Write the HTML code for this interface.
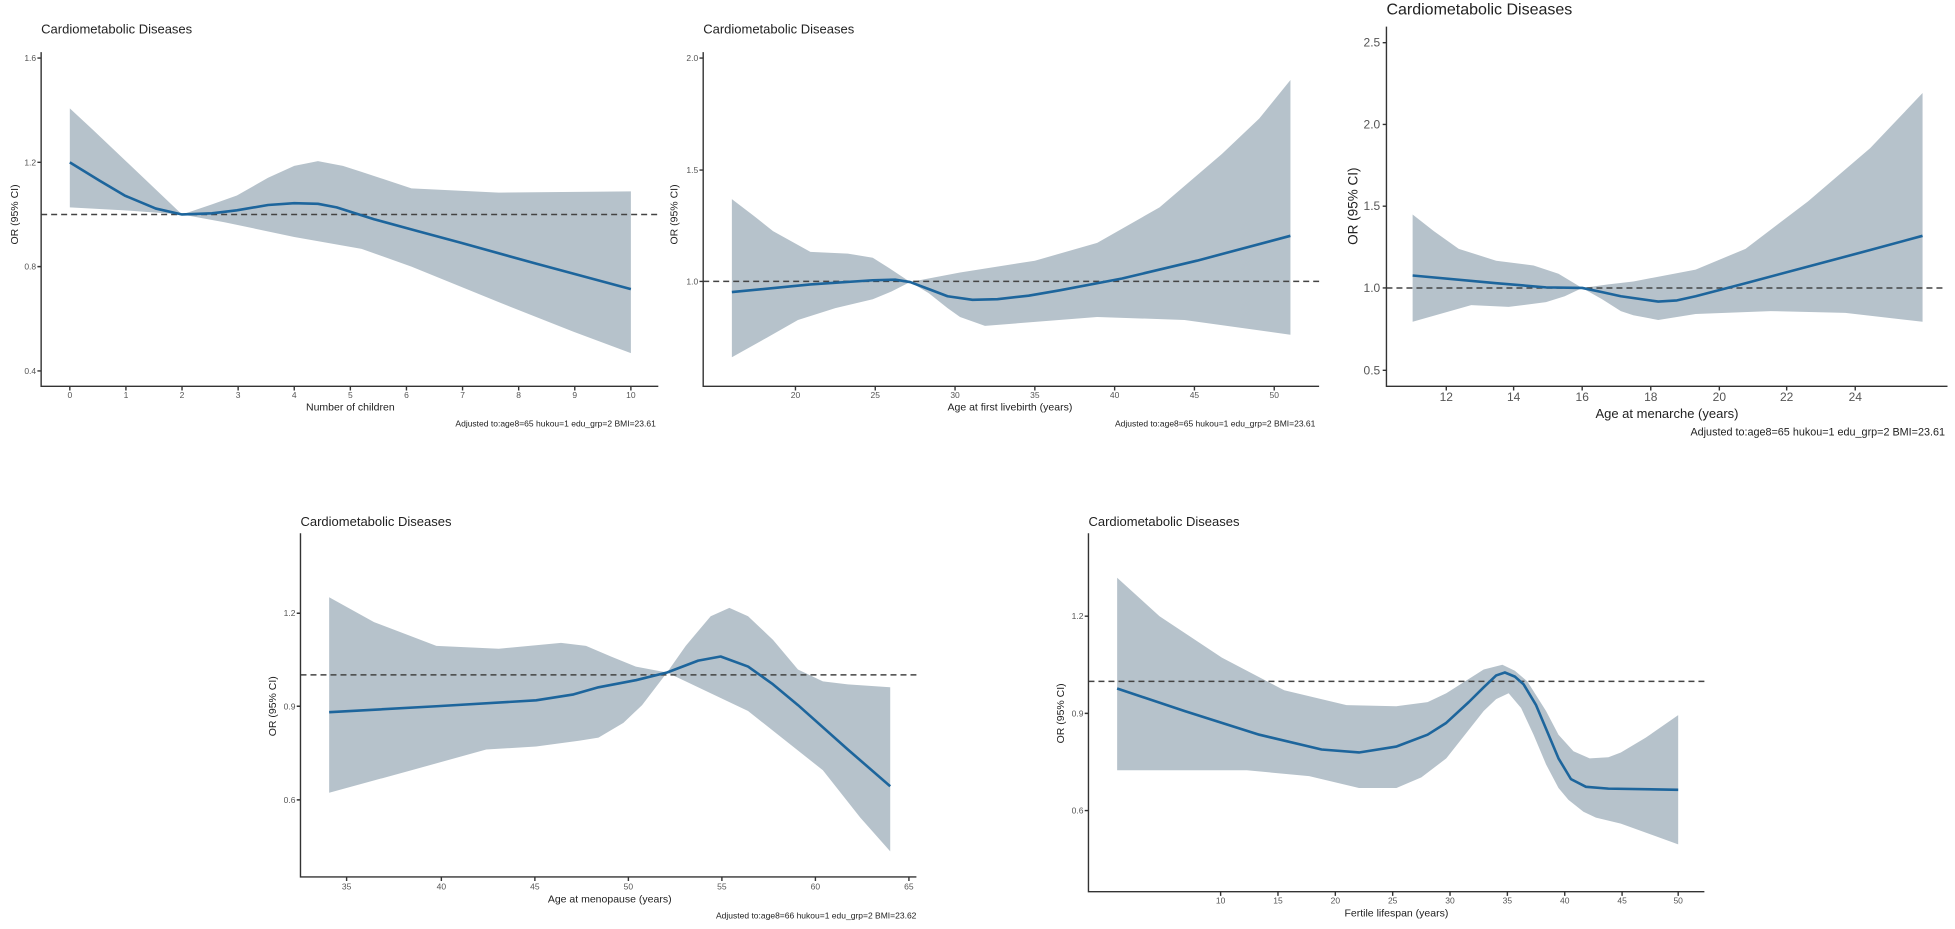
<!DOCTYPE html>
<html><head><meta charset="utf-8"><style>
html,body{margin:0;padding:0;background:#fff}
svg{display:block}
text{font-family:"Liberation Sans",Arial,sans-serif}
.t{fill:#222}.k{fill:#555}
.band{fill:#b6c2cb;stroke:none}
.ln{fill:none;stroke:#1d659c;stroke-width:2.6;stroke-linejoin:round;vector-effect:non-scaling-stroke}
.ds{fill:none;stroke:#444;stroke-width:1.5;stroke-dasharray:6 4;vector-effect:non-scaling-stroke}
.ax{fill:none;stroke:#333;stroke-width:1.4;vector-effect:non-scaling-stroke}
</style></head><body>
<svg width="1955" height="929" viewBox="0 0 1955 929" xmlns="http://www.w3.org/2000/svg">
<g transform="scale(1.2468 0.5925)">

<!-- Panel 1 -->
<path class="band" d="M56,183 L75,220 L90,250 L120,310 L146,362 L170,345 L190,330 L215,300 L236,280 L255,272 L275,280 L290,290 L330,318 L400,325 L506,323 L506,596 L460,560 L400,510 L330,450 L290,420 L236,400 L180,375 L146,362 L100,355 L56,350 Z"/>
<line class="ds" x1="33" y1="362" x2="528" y2="362"/>
<path class="ln" d="M56,274 L80,305 L100,330 L125,352 L146,362 L170,360 L190,355 L215,346 L236,343 L255,344 L270,350 L300,370 L335,390 L370,410 L430,445 L506,488"/>
<path class="ax" d="M33,88 L33,652 L528,652"/>
<path class="ax" d="M30,98H33M30,274H33M30,450H33M30,626H33M56,652V659M101,652V659M146,652V659M191,652V659M236,652V659M281,652V659M326,652V659M371,652V659M416,652V659M461,652V659M506,652V659"/>
<g font-size="8.5" class="k" text-anchor="end" dominant-baseline="central">
<text transform="translate(29 98) scale(0.8021 1.6878)">1.6</text>
<text transform="translate(29 274) scale(0.8021 1.6878)">1.2</text>
<text transform="translate(29 450) scale(0.8021 1.6878)">0.8</text>
<text transform="translate(29 626) scale(0.8021 1.6878)">0.4</text>
</g>
<g font-size="8.5" class="k" text-anchor="middle" dominant-baseline="central">
<text transform="translate(56 667) scale(0.8021 1.6878)">0</text>
<text transform="translate(101 667) scale(0.8021 1.6878)">1</text>
<text transform="translate(146 667) scale(0.8021 1.6878)">2</text>
<text transform="translate(191 667) scale(0.8021 1.6878)">3</text>
<text transform="translate(236 667) scale(0.8021 1.6878)">4</text>
<text transform="translate(281 667) scale(0.8021 1.6878)">5</text>
<text transform="translate(326 667) scale(0.8021 1.6878)">6</text>
<text transform="translate(371 667) scale(0.8021 1.6878)">7</text>
<text transform="translate(416 667) scale(0.8021 1.6878)">8</text>
<text transform="translate(461 667) scale(0.8021 1.6878)">9</text>
<text transform="translate(506 667) scale(0.8021 1.6878)">10</text>
</g>
<text class="t" font-size="13" dominant-baseline="central" transform="translate(33 49) scale(0.8021 1.6878)">Cardiometabolic Diseases</text>
<text class="t" font-size="10.5" text-anchor="middle" dominant-baseline="central" transform="translate(281 688) scale(0.8021 1.6878)">Number of children</text>
<text class="t" font-size="8.5" text-anchor="end" dominant-baseline="central" transform="translate(526 715) scale(0.8021 1.6878)">Adjusted to:age8=65 hukou=1 edu_grp=2 BMI=23.61</text>
<text class="t" font-size="10.5" text-anchor="middle" dominant-baseline="central" transform="translate(12 362) scale(0.8021 1.6878) rotate(-90)">OR (95% CI)</text>

<!-- Panel 2 -->
<path class="band" d="M587,336 L605,365 L620,390 L650,425 L680,428 L700,435 L715,455 L730,476 L770,460 L830,440 L880,410 L930,350 L980,260 L1010,200 L1035,135 L1035,565 L950,540 L880,535 L820,545 L790,550 L770,535 L760,520 L745,495 L730,476 L715,492 L700,505 L670,520 L640,540 L615,570 L587,603 Z"/>
<line class="ds" x1="564" y1="475" x2="1058" y2="475"/>
<path class="ln" d="M587,493 L650,480 L700,473 L718,472 L730,476 L745,488 L760,500 L780,506 L800,505 L825,499 L850,490 L900,470 L960,440 L1035,398"/>
<path class="ax" d="M564,88 L564,652 L1058,652"/>
<path class="ax" d="M561,98H564M561,287H564M561,475H564M638,652V659M702,652V659M766,652V659M830,652V659M894,652V659M958,652V659M1022,652V659"/>
<g font-size="8.5" class="k" text-anchor="end" dominant-baseline="central">
<text transform="translate(560 98) scale(0.8021 1.6878)">2.0</text>
<text transform="translate(560 287) scale(0.8021 1.6878)">1.5</text>
<text transform="translate(560 475) scale(0.8021 1.6878)">1.0</text>
</g>
<g font-size="8.5" class="k" text-anchor="middle" dominant-baseline="central">
<text transform="translate(638 667) scale(0.8021 1.6878)">20</text>
<text transform="translate(702 667) scale(0.8021 1.6878)">25</text>
<text transform="translate(766 667) scale(0.8021 1.6878)">30</text>
<text transform="translate(830 667) scale(0.8021 1.6878)">35</text>
<text transform="translate(894 667) scale(0.8021 1.6878)">40</text>
<text transform="translate(958 667) scale(0.8021 1.6878)">45</text>
<text transform="translate(1022 667) scale(0.8021 1.6878)">50</text>
</g>
<text class="t" font-size="13" dominant-baseline="central" transform="translate(564 49) scale(0.8021 1.6878)">Cardiometabolic Diseases</text>
<text class="t" font-size="10.5" text-anchor="middle" dominant-baseline="central" transform="translate(810 688) scale(0.8021 1.6878)">Age at first livebirth (years)</text>
<text class="t" font-size="8.5" text-anchor="end" dominant-baseline="central" transform="translate(1055 715) scale(0.8021 1.6878)">Adjusted to:age8=65 hukou=1 edu_grp=2 BMI=23.61</text>
<text class="t" font-size="10.5" text-anchor="middle" dominant-baseline="central" transform="translate(541 362) scale(0.8021 1.6878) rotate(-90)">OR (95% CI)</text>

<!-- Panel 3 -->
<path class="band" d="M1133,362 L1150,390 L1170,420 L1200,440 L1230,448 L1250,462 L1269,486 L1290,480 L1310,475 L1360,455 L1400,420 L1450,340 L1500,250 L1542,157 L1542,543 L1480,528 L1420,525 L1360,530 L1330,540 L1310,532 L1300,525 L1285,505 L1269,486 L1255,500 L1240,510 L1210,518 L1180,515 L1133,543 Z"/>
<line class="ds" x1="1112" y1="486" x2="1560" y2="486"/>
<path class="ln" d="M1133,465 L1200,478 L1240,485 L1269,486 L1285,493 L1300,500 L1330,509 L1345,507 L1360,500 L1400,478 L1450,450 L1500,422 L1542,398"/>
<path class="ax" d="M1112,45 L1112,652 L1562,652"/>
<path class="ax" d="M1109,72H1112M1109,210H1112M1109,348H1112M1109,486H1112M1109,625H1112M1160,652V659M1214,652V659M1269,652V659M1324,652V659M1379,652V659M1433,652V659M1488,652V659"/>
<g font-size="12" class="k" text-anchor="end" dominant-baseline="central">
<text transform="translate(1107 72) scale(0.8021 1.6878)">2.5</text>
<text transform="translate(1107 210) scale(0.8021 1.6878)">2.0</text>
<text transform="translate(1107 348) scale(0.8021 1.6878)">1.5</text>
<text transform="translate(1107 486) scale(0.8021 1.6878)">1.0</text>
<text transform="translate(1107 625) scale(0.8021 1.6878)">0.5</text>
</g>
<g font-size="12" class="k" text-anchor="middle" dominant-baseline="central">
<text transform="translate(1160 670) scale(0.8021 1.6878)">12</text>
<text transform="translate(1214 670) scale(0.8021 1.6878)">14</text>
<text transform="translate(1269 670) scale(0.8021 1.6878)">16</text>
<text transform="translate(1324 670) scale(0.8021 1.6878)">18</text>
<text transform="translate(1379 670) scale(0.8021 1.6878)">20</text>
<text transform="translate(1433 670) scale(0.8021 1.6878)">22</text>
<text transform="translate(1488 670) scale(0.8021 1.6878)">24</text>
</g>
<text class="t" font-size="16" dominant-baseline="central" transform="translate(1112 17) scale(0.8021 1.6878)">Cardiometabolic Diseases</text>
<text class="t" font-size="13" text-anchor="middle" dominant-baseline="central" transform="translate(1337 698) scale(0.8021 1.6878)">Age at menarche (years)</text>
<text class="t" font-size="10.8" text-anchor="end" dominant-baseline="central" transform="translate(1560 730) scale(0.8021 1.6878)">Adjusted to:age8=65 hukou=1 edu_grp=2 BMI=23.61</text>
<text class="t" font-size="13.5" text-anchor="middle" dominant-baseline="central" transform="translate(1085 348) scale(0.8021 1.6878) rotate(-90)">OR (95% CI)</text>

<!-- Panel 4 -->
<path class="band" d="M264,1008 L300,1050 L350,1090 L400,1095 L450,1085 L470,1090 L490,1108 L510,1125 L535,1135 L550,1090 L570,1040 L585,1026 L600,1040 L620,1080 L640,1130 L660,1150 L680,1155 L714,1160 L714,1437 L690,1380 L660,1300 L630,1250 L600,1200 L570,1170 L535,1135 L515,1190 L500,1220 L480,1245 L465,1250 L430,1260 L390,1265 L330,1300 L264,1338 Z"/>
<line class="ds" x1="241" y1="1139" x2="735" y2="1139"/>
<path class="ln" d="M264,1202 L350,1192 L430,1182 L460,1172 L480,1160 L510,1148 L535,1135 L560,1115 L578,1108 L600,1125 L620,1155 L640,1190 L680,1265 L714,1327"/>
<path class="ax" d="M241,900 L241,1480 L735,1480"/>
<path class="ax" d="M238,1035H241M238,1192H241M238,1350H241M278,1480V1487M354,1480V1487M429,1480V1487M504,1480V1487M579,1480V1487M654,1480V1487M729,1480V1487"/>
<g font-size="8.5" class="k" text-anchor="end" dominant-baseline="central">
<text transform="translate(237 1035) scale(0.8021 1.6878)">1.2</text>
<text transform="translate(237 1192) scale(0.8021 1.6878)">0.9</text>
<text transform="translate(237 1350) scale(0.8021 1.6878)">0.6</text>
</g>
<g font-size="8.5" class="k" text-anchor="middle" dominant-baseline="central">
<text transform="translate(278 1496) scale(0.8021 1.6878)">35</text>
<text transform="translate(354 1496) scale(0.8021 1.6878)">40</text>
<text transform="translate(429 1496) scale(0.8021 1.6878)">45</text>
<text transform="translate(504 1496) scale(0.8021 1.6878)">50</text>
<text transform="translate(579 1496) scale(0.8021 1.6878)">55</text>
<text transform="translate(654 1496) scale(0.8021 1.6878)">60</text>
<text transform="translate(729 1496) scale(0.8021 1.6878)">65</text>
</g>
<text class="t" font-size="13" dominant-baseline="central" transform="translate(241 880) scale(0.8021 1.6878)">Cardiometabolic Diseases</text>
<text class="t" font-size="10.5" text-anchor="middle" dominant-baseline="central" transform="translate(489 1518) scale(0.8021 1.6878)">Age at menopause (years)</text>
<text class="t" font-size="8.5" text-anchor="end" dominant-baseline="central" transform="translate(735 1545) scale(0.8021 1.6878)">Adjusted to:age8=66 hukou=1 edu_grp=2 BMI=23.62</text>
<text class="t" font-size="10.5" text-anchor="middle" dominant-baseline="central" transform="translate(219 1192) scale(0.8021 1.6878) rotate(-90)">OR (95% CI)</text>

<!-- Panel 5 -->
<path class="band" d="M896,975 L930,1040 L980,1110 L1030,1165 L1080,1190 L1120,1192 L1145,1185 L1160,1170 L1190,1130 L1205,1122 L1215,1132 L1225,1150 L1240,1200 L1250,1240 L1262,1268 L1275,1280 L1290,1278 L1300,1270 L1320,1245 L1346,1207 L1346,1425 L1300,1390 L1280,1380 L1270,1370 L1258,1350 L1250,1330 L1240,1290 L1230,1240 L1220,1195 L1210,1170 L1200,1180 L1190,1200 L1160,1280 L1140,1312 L1120,1330 L1090,1330 L1050,1310 L1000,1300 L896,1300 Z"/>
<line class="ds" x1="873" y1="1150" x2="1367" y2="1150"/>
<path class="ln" d="M896,1162 L950,1200 L1010,1240 L1060,1265 L1090,1270 L1120,1260 L1145,1240 L1160,1220 L1178,1185 L1190,1160 L1200,1140 L1207,1135 L1215,1142 L1222,1155 L1232,1190 L1240,1230 L1250,1280 L1260,1315 L1272,1328 L1290,1331 L1346,1333"/>
<path class="ax" d="M873,900 L873,1505 L1367,1505"/>
<path class="ax" d="M870,1040H873M870,1204H873M870,1368H873M979,1505V1512M1025,1505V1512M1071,1505V1512M1117,1505V1512M1163,1505V1512M1209,1505V1512M1255,1505V1512M1301,1505V1512M1346,1505V1512"/>
<g font-size="8.5" class="k" text-anchor="end" dominant-baseline="central">
<text transform="translate(869 1040) scale(0.8021 1.6878)">1.2</text>
<text transform="translate(869 1204) scale(0.8021 1.6878)">0.9</text>
<text transform="translate(869 1368) scale(0.8021 1.6878)">0.6</text>
</g>
<g font-size="8.5" class="k" text-anchor="middle" dominant-baseline="central">
<text transform="translate(979 1520) scale(0.8021 1.6878)">10</text>
<text transform="translate(1025 1520) scale(0.8021 1.6878)">15</text>
<text transform="translate(1071 1520) scale(0.8021 1.6878)">20</text>
<text transform="translate(1117 1520) scale(0.8021 1.6878)">25</text>
<text transform="translate(1163 1520) scale(0.8021 1.6878)">30</text>
<text transform="translate(1209 1520) scale(0.8021 1.6878)">35</text>
<text transform="translate(1255 1520) scale(0.8021 1.6878)">40</text>
<text transform="translate(1301 1520) scale(0.8021 1.6878)">45</text>
<text transform="translate(1346 1520) scale(0.8021 1.6878)">50</text>
</g>
<text class="t" font-size="13" dominant-baseline="central" transform="translate(873 880) scale(0.8021 1.6878)">Cardiometabolic Diseases</text>
<text class="t" font-size="10.5" text-anchor="middle" dominant-baseline="central" transform="translate(1120 1542) scale(0.8021 1.6878)">Fertile lifespan (years)</text>
<text class="t" font-size="10.5" text-anchor="middle" dominant-baseline="central" transform="translate(851 1204) scale(0.8021 1.6878) rotate(-90)">OR (95% CI)</text>

</g>
</svg>
</body></html>
